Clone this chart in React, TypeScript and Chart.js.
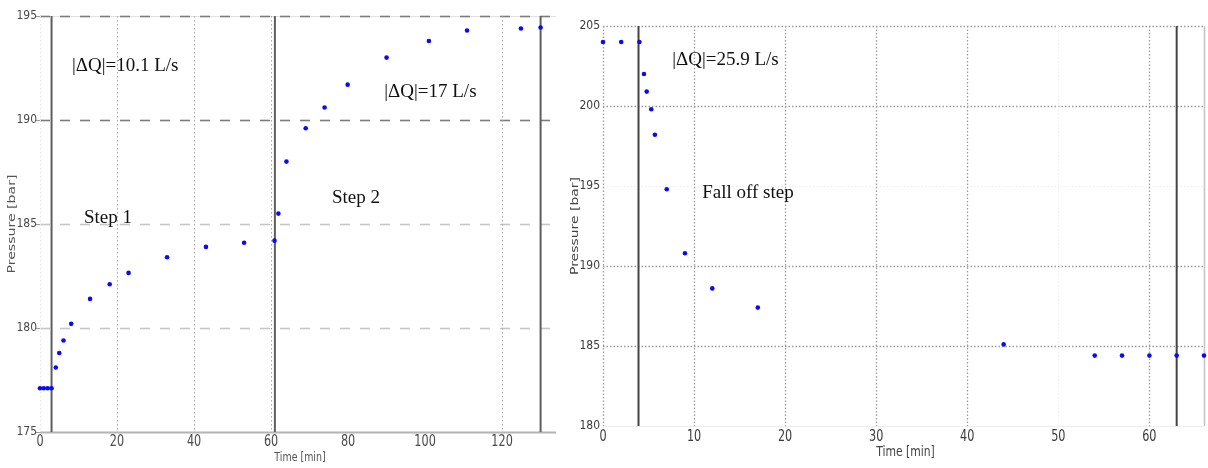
import { useEffect, useRef } from "react";
import { Chart, registerables } from "chart.js";

Chart.register(...registerables);

// Injection test, steps 1 and 2: elapsed time [min] and wellhead pressure [bar]
const injectionTime = [
  0, 1, 2, 3, 4.1, 5, 6.1, 8.1, 13, 18.1, 23, 33, 43.1, 53, 60.9,
  61.9, 64, 69, 73.9, 79.9, 90, 101, 110.9, 124.9, 130,
];
const injectionPressure = [
  177.1, 177.1, 177.1, 177.1, 178.1, 178.8, 179.4, 180.2, 181.4, 182.1, 182.65, 183.4, 183.9, 184.1, 184.2,
  185.5, 188.0, 189.6, 190.6, 191.7, 193.0, 193.8, 194.3, 194.4, 194.45,
];
const injectionStepTimes = [3, 61, 130];

// Fall-off step
const falloffTime = [0, 2, 4, 4.5, 4.8, 5.3, 5.7, 7, 9, 12, 17, 44, 54, 57, 60, 63, 66];
const falloffPressure = [
  204.0, 204.0, 204.0, 202.0, 200.9, 199.8, 198.2, 194.8, 190.8, 188.6, 187.4, 185.1, 184.4, 184.4, 184.4, 184.4, 184.4,
];
const falloffStepTimes = [3.9, 63];

// Tick values
const injectionTimeTicks = [0, 20, 40, 60, 80, 100, 120];
const injectionPressureTicks = [175, 180, 185, 190, 195];
const falloffTimeTicks = [0, 10, 20, 30, 40, 50, 60];
const falloffPressureTicks = [180, 185, 190, 195, 200, 205];

// Text labels placed in data coordinates
const injectionNotes = [
  { text: "|ΔQ|=10.1 L/s", x: 8.3, y: 192.6 },
  { text: "Step 1", x: 11.4, y: 185.3 },
  { text: "|ΔQ|=17 L/s", x: 89.4, y: 191.35 },
  { text: "Step 2", x: 75.8, y: 186.25 },
];
const falloffNotes = [
  { text: "|ΔQ|=25.9 L/s", x: 7.6, y: 202.9 },
  { text: "Fall off step", x: 10.9, y: 194.55 },
];

const SANS = "'DejaVu Sans Condensed', 'Liberation Sans Narrow', 'DejaVu Sans', sans-serif";
const SERIF = "'Liberation Serif', 'Times New Roman', serif";

type Rule = { value: number; color: string; width: number; dash: number[] };
type Note = { text: string; x: number; y: number };

type PanelSpec = {
  width: number;
  height: number;
  offsetLeft: number;
  time: number[];
  pressure: number[];
  steps: number[];
  stepColor: string;
  xMax: number;
  yMin: number;
  yMax: number;
  xTicks: number[];
  yTicks: number[];
  yScaleWidth: number;
  xScaleHeight: number;
  padTop: number;
  padRight: number;
  xTickOffset: number;
  hRules: Rule[];
  vRules: Rule[];
  notes: Note[];
  tickMarks: boolean;
  tickColor: string;
  titleColor: string;
  xTitleSize: number;
  yTitleLength: number;
};

function strokeLine(ctx: CanvasRenderingContext2D, x1: number, y1: number, x2: number, y2: number, r: { color: string; width: number; dash: number[] }) {
  ctx.save();
  ctx.strokeStyle = r.color;
  ctx.lineWidth = r.width;
  ctx.setLineDash(r.dash);
  ctx.beginPath();
  ctx.moveTo(x1, y1);
  ctx.lineTo(x2, y2);
  ctx.stroke();
  ctx.restore();
}

function makeOverlay(spec: PanelSpec) {
  return {
    id: "panelOverlay",
    beforeDatasetsDraw(chart: any) {
      const ctx: CanvasRenderingContext2D = chart.ctx;
      const { left, right, top, bottom } = chart.chartArea;
      const xs = chart.scales.x;
      const ys = chart.scales.y;
      for (const r of spec.hRules) {
        const py = Math.round(ys.getPixelForValue(r.value)) + 0.5;
        strokeLine(ctx, left, py, right, py, r);
      }
      for (const r of spec.vRules) {
        const px = Math.round(xs.getPixelForValue(r.value)) + 0.5;
        strokeLine(ctx, px, top, px, bottom, r);
      }
      if (spec.tickMarks) {
        for (const v of spec.yTicks) {
          const py = Math.round(ys.getPixelForValue(v)) + 0.5;
          strokeLine(ctx, left - 4, py, left, py, { color: "#9a9a9a", width: 1, dash: [] });
        }
      }
      for (const t of spec.steps) {
        const px = xs.getPixelForValue(t);
        strokeLine(ctx, px, top, px, bottom, { color: spec.stepColor, width: 2, dash: [] });
      }
    },
    afterDatasetsDraw(chart: any) {
      const ctx: CanvasRenderingContext2D = chart.ctx;
      const xs = chart.scales.x;
      const ys = chart.scales.y;
      ctx.save();
      ctx.fillStyle = "#111";
      ctx.font = `19px ${SERIF}`;
      ctx.textAlign = "left";
      ctx.textBaseline = "middle";
      for (const n of spec.notes) {
        ctx.fillText(n.text, xs.getPixelForValue(n.x), ys.getPixelForValue(n.y));
      }
      ctx.restore();
    },
    afterDraw(chart: any) {
      const ctx: CanvasRenderingContext2D = chart.ctx;
      const { left, right, top, bottom } = chart.chartArea;
      const xs = chart.scales.x;
      ctx.save();
      // time tick labels, drawn slightly tall
      ctx.fillStyle = spec.tickColor;
      ctx.textAlign = "center";
      ctx.textBaseline = "middle";
      ctx.font = `12.5px ${SANS}`;
      for (const v of spec.xTicks) {
        ctx.save();
        ctx.translate(xs.getPixelForValue(v), bottom + spec.xTickOffset);
        ctx.scale(1, 1.3);
        ctx.fillText(String(v), 0, 0);
        ctx.restore();
      }
      ctx.fillStyle = spec.titleColor;
      ctx.font = `${spec.xTitleSize}px ${SANS}`;
      ctx.save();
      ctx.translate((left + right) / 2 + 2, bottom + 26);
      ctx.scale(1, 1.2);
      ctx.fillText("Time [min]", 0, 0);
      ctx.restore();
      // rotated pressure title, stretched along its length
      ctx.translate(left - 28, (top + bottom) / 2);
      ctx.rotate(-Math.PI / 2);
      ctx.font = `11px ${SANS}`;
      const w = ctx.measureText("Pressure [bar]").width;
      ctx.scale(spec.yTitleLength / w, 1);
      ctx.fillText("Pressure [bar]", 0, 0);
      ctx.restore();
    },
  };
}

function Panel({ spec }: { spec: PanelSpec }) {
  const ref = useRef<HTMLCanvasElement | null>(null);
  useEffect(() => {
    if (!ref.current) return;
    const chart = new Chart(ref.current, {
      type: "scatter",
      data: {
        datasets: [
          {
            data: spec.time.map((t, i) => ({ x: t, y: spec.pressure[i] })),
            pointRadius: 2.3,
            pointBackgroundColor: "#0a0af5",
            pointBorderWidth: 0,
            clip: false,
          } as any,
        ],
      },
      options: {
        responsive: false,
        animation: false,
        devicePixelRatio: 1,
        layout: { padding: { top: spec.padTop, right: spec.padRight, left: 0, bottom: 0 } },
        plugins: { legend: { display: false }, tooltip: { enabled: false } },
        scales: {
          x: {
            type: "linear",
            min: 0,
            max: spec.xMax,
            afterFit: (s: any) => {
              s.height = spec.xScaleHeight;
            },
            afterBuildTicks: (s: any) => {
              s.ticks = spec.xTicks.map((v) => ({ value: v }));
            },
            grid: { display: false, drawTicks: false },
            border: { display: false },
            ticks: { display: false },
          },
          y: {
            type: "linear",
            min: spec.yMin,
            max: spec.yMax,
            afterFit: (s: any) => {
              s.width = spec.yScaleWidth;
            },
            afterBuildTicks: (s: any) => {
              s.ticks = spec.yTicks.map((v) => ({ value: v }));
            },
            grid: { display: false, drawTicks: false },
            border: { display: false },
            ticks: {
              padding: 3,
              autoSkip: false,
              color: spec.tickColor,
              font: { family: SANS, size: 12 },
            },
          },
        },
      },
      plugins: [makeOverlay(spec)],
    });
    return () => chart.destroy();
  }, [spec]);
  return (
    <div style={{ position: "absolute", left: spec.offsetLeft, top: 0, width: spec.width, height: spec.height }}>
      <canvas ref={ref} width={spec.width} height={spec.height} style={{ width: spec.width, height: spec.height }} />
    </div>
  );
}

const dark = "#7c7c7c";
const light = "#c6c6c6";

const injectionSpec: PanelSpec = {
  width: 560,
  height: 468,
  offsetLeft: 0,
  time: injectionTime,
  pressure: injectionPressure,
  steps: injectionStepTimes,
  stepColor: "#5e5e5e",
  xMax: 134,
  yMin: 175,
  yMax: 195,
  xTicks: injectionTimeTicks,
  yTicks: injectionPressureTicks,
  yScaleWidth: 40,
  xScaleHeight: 36,
  padTop: 16,
  padRight: 3,
  xTickOffset: 10,
  hRules: [
    { value: 195, color: "#e2e2e2", width: 1, dash: [] },
    { value: 195, color: dark, width: 1.6, dash: [10, 10] },
    { value: 190, color: dark, width: 1.6, dash: [10, 10] },
    { value: 185, color: light, width: 1.6, dash: [10, 10] },
    { value: 180, color: light, width: 1.6, dash: [10, 10] },
    { value: 175, color: "#b4b4b4", width: 2, dash: [] },
  ],
  vRules: [
    { value: 0, color: "#e4e4e4", width: 1, dash: [1.5, 2.5] },
    { value: 20, color: "#a8a8a8", width: 1, dash: [1.5, 2.5] },
    { value: 40, color: "#a8a8a8", width: 1, dash: [1.5, 2.5] },
    { value: 60, color: "#a8a8a8", width: 1, dash: [1.5, 2.5] },
    { value: 120, color: "#a8a8a8", width: 1, dash: [1.5, 2.5] },
  ],
  notes: injectionNotes,
  tickMarks: true,
  tickColor: "#4a4a4a",
  titleColor: "#555",
  xTitleSize: 10.5,
  yTitleLength: 99,
};

const dot = "#9c9c9c";

const falloffSpec: PanelSpec = {
  width: 648,
  height: 468,
  offsetLeft: 560,
  time: falloffTime,
  pressure: falloffPressure,
  steps: falloffStepTimes,
  stepColor: "#444",
  xMax: 66,
  yMin: 180,
  yMax: 205,
  xTicks: falloffTimeTicks,
  yTicks: falloffPressureTicks,
  yScaleWidth: 43,
  xScaleHeight: 42,
  padTop: 26,
  padRight: 1,
  xTickOffset: 11,
  hRules: [
    { value: 205, color: dot, width: 1.3, dash: [1.5, 2] },
    { value: 200, color: dot, width: 1.3, dash: [1.5, 2] },
    { value: 195, color: "#ececec", width: 1, dash: [1.5, 2] },
    { value: 190, color: dot, width: 1.3, dash: [1.5, 2] },
    { value: 185, color: dot, width: 1.3, dash: [1.5, 2] },
    { value: 180, color: "#ededed", width: 1, dash: [] },
  ],
  vRules: [
    { value: 0, color: dot, width: 1.3, dash: [1.5, 2] },
    { value: 10, color: dot, width: 1.3, dash: [1.5, 2] },
    { value: 20, color: dot, width: 1.3, dash: [1.5, 2] },
    { value: 30, color: dot, width: 1.3, dash: [1.5, 2] },
    { value: 40, color: dot, width: 1.3, dash: [1.5, 2] },
    { value: 50, color: "#eeeeee", width: 1, dash: [1.5, 2] },
    { value: 60, color: dot, width: 1.3, dash: [1.5, 2] },
    { value: 66, color: "#c4c4c4", width: 1.5, dash: [] },
  ],
  notes: falloffNotes,
  tickMarks: false,
  tickColor: "#3c3c3c",
  titleColor: "#444",
  xTitleSize: 12,
  yTitleLength: 98,
};

export default function App() {
  return (
    <div style={{ position: "fixed", left: 0, top: 0, width: 1208, height: 468, background: "#fff" }}>
      <Panel spec={injectionSpec} />
      <Panel spec={falloffSpec} />
    </div>
  );
}
